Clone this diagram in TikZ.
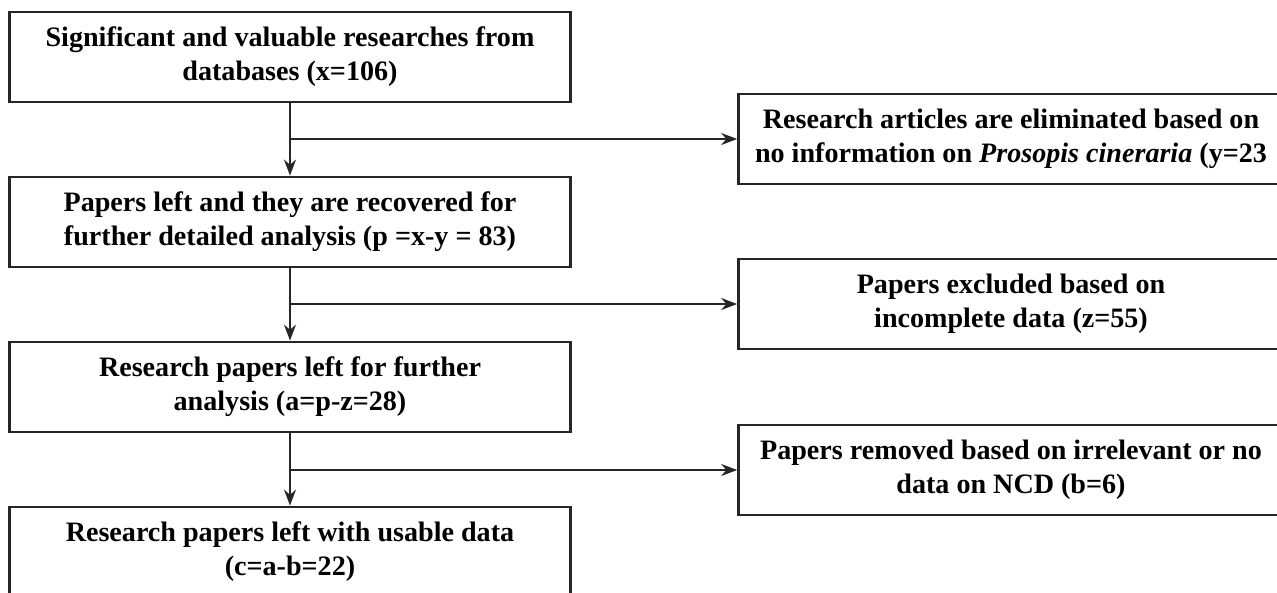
\documentclass[tikz,border=0pt]{standalone}
\usepackage{fontspec}
\setmainfont{Liberation Serif}
\usetikzlibrary{arrows.meta,positioning}
\tikzset{
    flow-box/.style = {draw=black!85, fill=white, line width=1.6pt, rectangle, align=center, minimum width=11.22cm, minimum height=1.8cm, inner sep=2pt, font=\fontsize{16}{19.4}\selectfont\bfseries},
    side-box/.style = {flow-box, minimum width=10.9cm},
    flow-arrow/.style = {draw=black!85, line width=1.2pt, -{Stealth[length=3.2mm, width=2.4mm]}},
}

\begin{document}
\begin{tikzpicture}[x=0.02cm, y=-0.02cm]
\useasboundingbox (0,0) rectangle (1277,592);
\clip (0,0) rectangle (1277,592);
% main column
\node [flow-box] (found) at (290,57) {Significant and valuable researches from\\databases (x=106)};
\node [flow-box] (recovered) at (290,222) {Papers left and they are recovered for\\further detailed analysis (p =x-y = 83)};
\node [flow-box] (further) at (290,387) {Research papers left for further\\analysis (a=p-z=28)};
\node [flow-box] (usable) at (290,552) {Research papers left with usable data\\(c=a-b=22)};
% excluded column, right border just off the page
\node [side-box] (elim) at (1011,139) {Research articles are eliminated based on\\no information on \textit{Prosopis cineraria} (y=23};
\node [side-box] (excluded) at (1011,304) {Papers excluded based on\\incomplete data (z=55)};
\node [side-box] (removed) at (1011,470) {Papers removed based on irrelevant or no\\data on NCD (b=6)};

\draw [flow-arrow] (found) -- (recovered);
\draw [flow-arrow] (recovered) -- (further);
\draw [flow-arrow] (further) -- (usable);
\draw [flow-arrow] (found.south |- elim.west) -- (elim.west);
\draw [flow-arrow] (recovered.south |- excluded.west) -- (excluded.west);
\draw [flow-arrow] (further.south |- removed.west) -- (removed.west);
\end{tikzpicture}
\end{document}
